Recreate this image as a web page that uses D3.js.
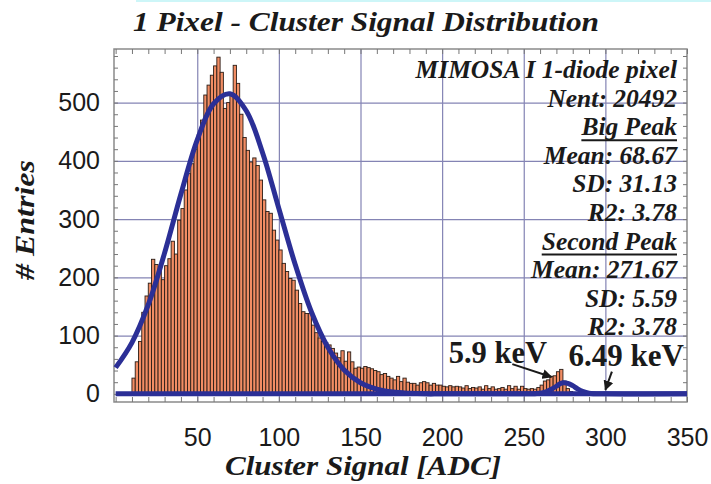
<!doctype html>
<html>
<head>
<meta charset="UTF-8">
<title>1 Pixel - Cluster Signal Distribution</title>
<script src="https://cdn.jsdelivr.net/npm/d3@7"></script>
<style>
  body { margin: 0; background: #fff; }
  svg { display: block; }
  .bi { font-family: "Liberation Serif", "DejaVu Serif", serif; font-weight: bold; font-style: italic; fill: #1a1a1a; }
  .tick text { font-family: "Liberation Sans", Arial, sans-serif; font-size: 25px; fill: #1a1a1a; }
</style>
</head>
<body>
<svg id="chart" width="711" height="484"></svg>
<script>
// histogram: 2 ADC bins starting at 10
var binStart = 10;
var binWidth = 2;
var counts = [
  27, 55, 90, 140, 168, 190, 231, 222, 214, 196,
  220, 232, 262, 240, 298, 318, 350, 378, 395, 420,
  445, 470, 513, 530, 547, 563, 578, 552, 490, 500,
  512, 564, 533, 480, 440, 418, 398, 405, 392, 367,
  333, 313, 310, 281, 264, 247, 224, 210, 198, 195,
  178, 155, 141, 138, 138, 118, 105, 96, 90, 88,
  84, 78, 70, 62, 74, 56, 72, 55, 44, 46,
  44, 47, 45, 43, 40, 38, 33, 35, 30, 27,
  24, 30, 21, 27, 20, 18, 18, 15, 19, 21,
  19, 15, 18, 15, 15, 13, 12, 14, 12, 13,
  12, 10, 14, 9, 11, 10, 12, 8, 14, 9,
  12, 8, 9, 11, 8, 14, 9, 13, 8, 13,
  9, 8, 9, 8, 11, 15, 22, 24, 30, 31,
  38, 42, 22, 9, 4, 2, 1
];

// fitted curves
var bigFitX = [0, 10, 20, 30, 40, 50, 60, 70, 80, 90, 100, 110, 120, 130, 140, 150, 160, 170, 180, 190, 200, 350];
var bigFitY = [45, 88, 153, 242, 343, 436, 498, 515, 486, 414, 318, 222, 140, 80, 41, 19, 8, 3, 1, 0, 0, 0];
var smallFitX = [0, 240, 250, 255, 258, 261, 264, 267, 270, 272, 274, 277, 280, 283, 286, 290, 300, 350];
var smallFitY = [0, 0, 0, 0.1, 0.5, 1.6, 4, 8, 13, 17, 19, 18, 14, 8.5, 4.2, 1, 0, 0];

var xTicks = [50, 100, 150, 200, 250, 300, 350];
var yTicks = [0, 100, 200, 300, 400, 500];

var statsText = ["MIMOSA I 1-diode pixel", "Nent: 20492", "Big Peak", "Mean: 68.67", "SD: 31.13",
                 "R2: 3.78", "Second Peak", "Mean: 271.67", "SD: 5.59", "R2: 3.78"];
var underlined = ["Big Peak", "Second Peak"];

var peakLabels = ["5.9 keV", "6.49 keV"];

var svg = d3.select("#chart");
var pLeft = 114, pRight = 687, pTop = 49, pBottom = 402;

var x = d3.scaleLinear().domain([-1, 350]).range([pLeft, pRight]);
var y = d3.scaleLinear().domain([-14, 592]).range([pBottom, pTop]);

// light cyan strip at top of page
svg.append("rect").attr("x", 136).attr("y", 0).attr("width", 575).attr("height", 2).attr("fill", "#cdf6f8");

// grid
svg.append("g")
  .attr("transform", "translate(0," + pBottom + ")")
  .call(d3.axisBottom(x).tickValues([50, 100, 150, 200, 250, 300]).tickSize(-(pBottom - pTop)).tickFormat(""))
  .call(function(g) { g.select(".domain").remove(); })
  .selectAll("line").attr("stroke", "#8484b4").attr("stroke-width", 1.2);

svg.append("g")
  .attr("transform", "translate(" + pLeft + ",0)")
  .call(d3.axisLeft(y).tickValues([100, 200, 300, 400, 500]).tickSize(-(pRight - pLeft)).tickFormat(""))
  .call(function(g) { g.select(".domain").remove(); })
  .selectAll("line").attr("stroke", "#8484b4").attr("stroke-width", 1.2);

// bars
svg.append("g").selectAll("rect")
  .data(counts)
  .join("rect")
  .attr("x", function(d, i) { return x(binStart + i * binWidth); })
  .attr("width", x(binWidth) - x(0))
  .attr("y", function(d) { return y(d); })
  .attr("height", function(d) { return y(0) - y(d); })
  .attr("fill", "#f28d64")
  .attr("stroke", "#2b1d16")
  .attr("stroke-width", 0.9);

// frame
svg.append("rect")
  .attr("x", pLeft).attr("y", pTop)
  .attr("width", pRight - pLeft).attr("height", pBottom - pTop)
  .attr("fill", "none").attr("stroke", "#8a8a8a").attr("stroke-width", 1.5);

// minor ticks, all pointing inward
var minorX = d3.range(0, 351, 10);
var minorY = d3.range(0, 581, 20);
function noDomain(g) { g.select(".domain").remove(); g.selectAll("line").attr("stroke", "#777"); }
svg.append("g").attr("transform", "translate(0," + pBottom + ")")
  .call(d3.axisBottom(x).tickValues(minorX).tickSize(-5).tickFormat("")).call(noDomain);
svg.append("g").attr("transform", "translate(0," + pTop + ")")
  .call(d3.axisTop(x).tickValues(minorX).tickSize(-5).tickFormat("")).call(noDomain);
svg.append("g").attr("transform", "translate(" + pLeft + ",0)")
  .call(d3.axisLeft(y).tickValues(minorY).tickSize(-4).tickFormat("")).call(noDomain);
svg.append("g").attr("transform", "translate(" + pRight + ",0)")
  .call(d3.axisRight(y).tickValues(minorY).tickSize(-4).tickFormat("")).call(noDomain);

// tick labels
svg.append("g").attr("transform", "translate(0," + pBottom + ")")
  .call(d3.axisBottom(x).tickValues(xTicks).tickSize(0).tickPadding(26))
  .call(function(g) { g.select(".domain").remove(); });
svg.append("g").attr("transform", "translate(" + pLeft + ",0)")
  .call(d3.axisLeft(y).tickValues(yTicks).tickSize(0).tickPadding(14))
  .call(function(g) { g.select(".domain").remove(); });

// fit curves
var line = d3.line().curve(d3.curveCatmullRom);
svg.append("path")
  .attr("d", line(smallFitX.map(function(v, i) { return [x(v), y(smallFitY[i])]; })))
  .attr("fill", "none").attr("stroke", "#2b2f96").attr("stroke-width", 5);
svg.append("path")
  .attr("d", line(bigFitX.map(function(v, i) { return [x(v), y(bigFitY[i])]; })))
  .attr("fill", "none").attr("stroke", "#2b2f96").attr("stroke-width", 5)
  .attr("stroke-linejoin", "round");

// titles
svg.append("text").attr("class", "bi")
  .attr("x", 366).attr("y", 31).attr("text-anchor", "middle")
  .attr("font-size", 28).attr("textLength", 466).attr("lengthAdjust", "spacingAndGlyphs")
  .text("1 Pixel - Cluster Signal Distribution");

svg.append("text").attr("class", "bi")
  .attr("x", 363).attr("y", 475).attr("text-anchor", "middle")
  .attr("font-size", 28).attr("textLength", 276).attr("lengthAdjust", "spacingAndGlyphs")
  .text("Cluster Signal [ADC]");

svg.append("text").attr("class", "bi")
  .attr("transform", "translate(34,220) rotate(-90)")
  .attr("text-anchor", "middle")
  .attr("font-size", 28).attr("textLength", 120).attr("lengthAdjust", "spacingAndGlyphs")
  .text("# Entries");

// stats box text
var stats = svg.append("g");
statsText.forEach(function(t, i) {
  var by = 78 + 28.6 * i;
  var tx = stats.append("text").attr("class", "bi")
    .attr("x", 677).attr("y", by).attr("text-anchor", "end")
    .attr("font-size", 25.5).text(t);
  if (underlined.indexOf(t) >= 0) {
    var w = tx.node().getComputedTextLength();
    stats.append("line")
      .attr("x1", 677 - w).attr("x2", 677)
      .attr("y1", by + 5).attr("y2", by + 5)
      .attr("stroke", "#1a1a1a").attr("stroke-width", 2);
  }
});

// peak annotations
svg.append("defs").append("marker")
  .attr("id", "arrow").attr("viewBox", "0 0 10 10")
  .attr("refX", 9).attr("refY", 5)
  .attr("markerWidth", 5).attr("markerHeight", 5)
  .attr("orient", "auto")
  .append("path").attr("d", "M0,0 L10,5 L0,10 z").attr("fill", "#1a1a1a");

svg.append("text")
  .attr("x", 547).attr("y", 363).attr("text-anchor", "end")
  .attr("font-family", "'Liberation Serif', serif").attr("font-weight", "bold")
  .attr("font-size", 30.5).attr("fill", "#1a1a1a")
  .text(peakLabels[0]);
svg.append("text")
  .attr("x", 684).attr("y", 366).attr("text-anchor", "end")
  .attr("font-family", "'Liberation Serif', serif").attr("font-weight", "bold")
  .attr("font-size", 31).attr("fill", "#1a1a1a")
  .text(peakLabels[1]);

svg.append("line")
  .attr("x1", x(243)).attr("y1", y(51)).attr("x2", x(267)).attr("y2", y(29))
  .attr("stroke", "#1a1a1a").attr("stroke-width", 2).attr("marker-end", "url(#arrow)");
svg.append("line")
  .attr("x1", x(304)).attr("y1", y(38)).attr("x2", x(300)).attr("y2", y(7))
  .attr("stroke", "#1a1a1a").attr("stroke-width", 2).attr("marker-end", "url(#arrow)");
</script>
</body>
</html>
